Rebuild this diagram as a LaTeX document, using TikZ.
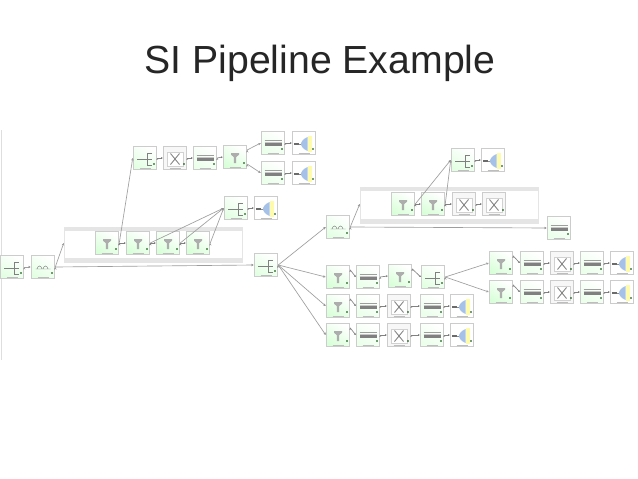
\documentclass[tikz,border=0pt]{standalone}
\usepackage{fontspec}
\setmainfont{Liberation Sans}
\newcommand{\blk}[4]{%
  \node[blkstyle,#4box] (#1) at (#2,#3) {};
  \pic at ($(#1.center)+(0,1)$) {#4icon};
  \draw[black!26,line width=0.7pt] ($(#1.south)+(-5.5,-2.2)$) -- ($(#1.south)+(5.5,-2.2)$);
  \fill[black!55!green!70!black,opacity=.55] ($(#1.south east)+(-4.6,-5.2)$) rectangle +(2.5,-2.5);
}
\usetikzlibrary{calc,arrows.meta}
\tikzset{
  blkstyle/.style={draw=black!20,line width=1pt,minimum width=23.5pt,minimum height=23.5pt,inner sep=0pt},
  rbox/.style={left color=white,right color=green!11!white,shading angle=-30},
  fbox/.style={left color=white,right color=green!15!white,shading angle=-30},
  xbox/.style={fill=black!3},
  cbox/.style={left color=white,right color=green!8!white,shading angle=-30},
  abox/.style={left color=white,right color=green!11!white,shading angle=-30},
  obox/.style={fill=white},
  link/.style={draw=black!38,line width=0.65pt,-{Stealth[length=2.6pt,width=2.4pt]}},
  tiny link/.style={draw=black!50,line width=0.65pt,-{Stealth[length=1.8pt,width=1.8pt]}},
  band/.style={fill=black!10,draw=none},
  ricon/.pic={\draw[black!50,line width=0.5pt] (-8,0) -- (2,0) (2,-6) -- (2,6) (2,-6) -- (7,-6) (2,0) -- (7,0) (2,6) -- (7,6);},
  ficon/.pic={\fill[black!32] (-4,-5) -- (4,-5) -- (4,-3.4) -- (1.2,-0.8) -- (1.2,5) -- (-1.2,5) -- (-1.2,-0.8) -- (-4,-3.4) -- cycle;},
  xicon/.pic={\draw[black!18,fill=white,line width=0.6pt] (-8,-7) rectangle (8,7);
     \draw[black!48,line width=0.9pt] (-4.5,-5.5) -- (4.5,5.5) (-4.5,5.5) -- (4.5,-5.5);},
  cicon/.pic={\draw[black!38,line width=0.4pt] (-8.5,-4) -- (8.5,-4);
     \fill[black!50] (-8.5,-0.7) rectangle (8.5,1.6);
     \draw[black!22,line width=0.4pt] (-8.5,-2.3) -- (8.5,-2.3);},
  aicon/.pic={\draw[black!50,line width=0.45pt] (-6,1) .. controls (-5,-3) and (-2,-3) .. (-1,1) (0,1) .. controls (1,-3) and (4,-3) .. (5,1) (-7.5,1) -- (7.5,1);},
  oicon/.pic={\draw[black!58,line width=1.1pt] (-10,0) -- (-5,0);
     \draw[black!45,line width=0.4pt] (-5,0) -- (-2,0);
     \fill[cyan!55!blue!35!white] (3.5,-7) .. controls (-1,-5) and (-3,-2) .. (-3,0) .. controls (-3,2) and (-1,5) .. (3.5,7) -- cycle;
     \fill[yellow!32] (3.5,-8) rectangle (8,8);},
}
\begin{document}
\begin{tikzpicture}[x=1pt,y=-1pt]
\useasboundingbox (0,0) rectangle (638,479);
\fill[white] (0,0) rectangle (638,479);
\node[anchor=center,font=\fontsize{39.2}{44}\selectfont,text=black!85,inner sep=0pt] (title) at (320,63) {SI Pipeline Example};
\coordinate (edgeA) at (1,130);
\coordinate (edgeB) at (1,360);
\draw[black!13,line width=0.8pt] (edgeA) -- (edgeB);

% groups
\node[draw=black!10,fill=white,line width=0.5pt,minimum width=178pt,minimum height=35pt,inner sep=0pt] (g1) at (153,244.5) {};
\fill[band] (64,227) rectangle (242,231);
\fill[band] (64,258) rectangle (242,262);
\node[draw=black!10,fill=white,line width=0.5pt,minimum width=178pt,minimum height=36pt,inner sep=0pt] (g2) at (449,205) {};
\fill[band] (360,187) rectangle (538,191);
\fill[band] (360,219) rectangle (538,223);

% nodes
\blk{in}{12}{267}{r}
\blk{ag}{43}{267}{a}
\blk{ga}{107}{243}{f}
\blk{gb}{138}{243}{f}
\blk{gc}{168}{243}{f}
\blk{gd}{198}{243}{f}
\blk{ta}{145}{158}{r}
\blk{tb}{175}{158}{x}
\blk{tc}{205}{158}{c}
\blk{td}{235}{157}{f}
\blk{te}{273}{143}{c}
\blk{tf}{304}{143}{o}
\blk{tg}{273}{173}{c}
\blk{th}{304}{173}{o}
\blk{ma}{236}{208}{r}
\blk{mb}{266}{208}{o}
\blk{hub}{266}{265}{r}
\blk{agb}{338}{227}{a}
\blk{ua}{463}{160}{r}
\blk{ub}{493}{160}{o}
\blk{ha}{403}{204}{f}
\blk{hb}{433}{204}{f}
\blk{hc}{464}{204}{x}
\blk{hd}{494}{204}{x}
\blk{ch}{559}{228}{c}
\blk{pa}{338}{277}{f}
\blk{pb}{368}{277}{c}
\blk{pc}{400}{276}{f}
\blk{pd}{433}{277}{r}
\blk{qa}{338}{306}{f}
\blk{qb}{368}{306}{c}
\blk{qc}{399}{306}{x}
\blk{qd}{432}{306}{c}
\blk{qe}{462}{306}{o}
\blk{ra}{338}{335}{f}
\blk{rb}{368}{335}{c}
\blk{rc}{399}{335}{x}
\blk{rd}{432}{335}{c}
\blk{re}{462}{335}{o}
\blk{sa}{501}{263}{f}
\blk{sb}{532}{263}{c}
\blk{sc}{562}{263}{x}
\blk{sd}{592}{263}{c}
\blk{se}{622}{263}{o}
\blk{va}{501}{292}{f}
\blk{vb}{532}{292}{c}
\blk{vc}{562}{292}{x}
\blk{vd}{592}{292}{c}
\blk{ve}{622}{292}{o}

% long connectors
\path[link] (in.east) edge (ag.west);
\path[link] (ag.east) edge (g1.west |- ga);
\path[link] (ag.east) edge (hub.west);
\path[link] (ga.east) edge (ta.west);
\path[link] (gb.east) edge (ma.west);
\path[link] (gc.east) edge (ma.west);
\path[link] (gd.east) edge (ma.west);
\path[link] (td.30) edge (te.west);
\path[link] (td.-30) edge (tg.west);
\path[link] (hub.east) edge (agb.west);
\path[link] (hub.east) edge (pa.west);
\path[link] (hub.east) edge (qa.west);
\path[link] (hub.east) edge (ra.west);
\path[link] (agb.east) edge (g2.west |- ha);
\path[link] (agb.east) edge (ch.west);
\path[link] (ha.east) edge (ua.west);
\path[link] (hb.east) edge (ua.west);
\path[link] (pd.east) edge (sa.west);
\path[link] (pd.east) edge (va.west);

% short connectors
\foreach \a/\b in {ga/gb,gb/gc,gc/gd,ta/tb,tb/tc,tc/td,te/tf,tg/th,ma/mb,ua/ub,ha/hb,hb/hc,hc/hd,
  pb/pc,qb/qc,qc/qd,qd/qe,rb/rc,rc/rd,rd/re,sb/sc,sc/sd,sd/se,vb/vc,vc/vd,vd/ve}
  {\path[tiny link] (\a.east) edge (\b.west);}
\foreach \a/\b in {pa/pb,pc/pd,qa/qb,ra/rb,sa/sb,va/vb}
  {\path[tiny link] (\a.30) edge (\b.west);}
\end{tikzpicture}
\end{document}
